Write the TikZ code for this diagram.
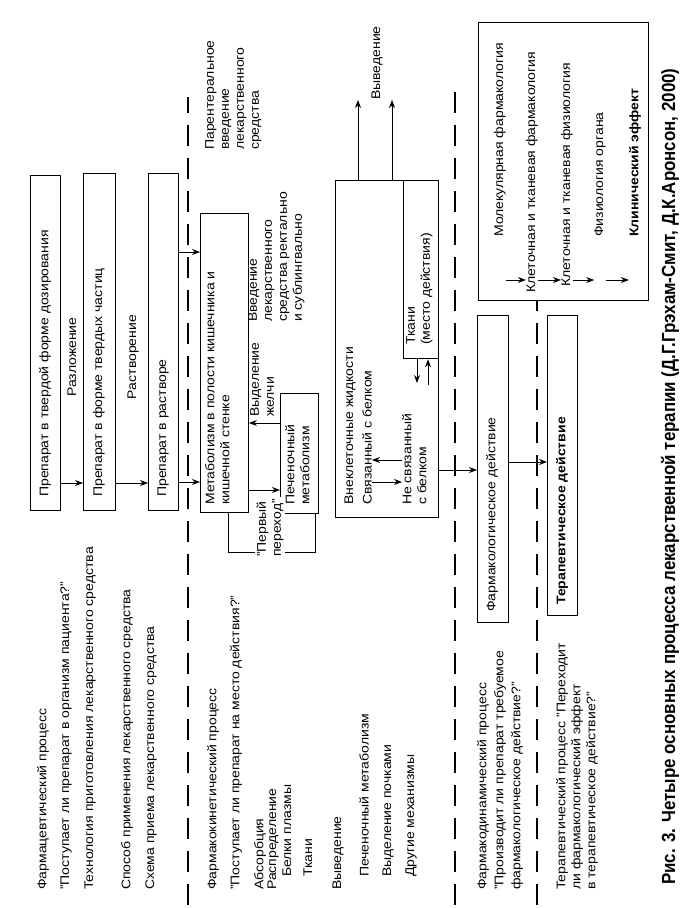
\documentclass[tikz,border=0pt]{standalone}
\usepackage{fontspec}
\setmainfont[FakeStretch=1.12]{Liberation Sans}
\newfontfamily\capfont[FakeStretch=0.89]{Liberation Sans}
\usetikzlibrary{arrows.meta}

\begin{document}
\begin{tikzpicture}[x=1pt, y=-1pt,
                every node/.style={font=\fontsize{12.5}{15}\selectfont},
                txt/.style={rotate=90, anchor=west, inner sep=0pt},
                par/.style={rotate=90, anchor=north west, inner sep=0pt, align=left},
                box/.style={draw, line width=0.9pt, anchor=north west, inner sep=0pt},
                sep/.style={line width=2.6pt, dash pattern=on 21pt off 12pt},
                arr/.style={line width=0.8pt, -{Stealth[length=8pt, width=6pt]}},
                link/.style={line width=0.8pt}
            ]
            \useasboundingbox (0,0) rectangle (696,908);
            % Separators
            \draw[sep] (188,905) -- (188,97);
            \draw[sep] (455,905) -- (455,85);
            \draw[sep] (537,905) -- (537,300);
            % Left column
            \node[txt] (pharmaceut) at (43,890) {Фармацевтический процесс};
            \node[txt] (q1) at (66,890) {"Поступает ли препарат в организм пациента?"};
            \node[txt] (tech) at (90,890) {Технология приготовления лекарственного средства};
            \node[txt] (route) at (127,890) {Способ применения лекарственного средства};
            \node[txt] (regimen) at (151,890) {Схема приема лекарственного средства};
            \node[txt] (kinetic) at (213,890) {Фармакокинетический процесс};
            \node[txt] (q2) at (236,890) {"Поступает ли препарат на место действия?"};
            \node[txt] (absorb) at (260,890) {Абсорбция};
            \node[txt] (distr) at (273,890) {Распределение};
            \node[txt] (plasma) at (287,877) {Белки плазмы};
            \node[txt] (tissue) at (308,877) {Ткани};
            \node[txt] (elim) at (338,890) {Выведение};
            \node[txt] (hepat) at (364,877) {Печеночный метаболизм};
            \node[txt] (renal) at (388,877) {Выделение почками};
            \node[txt] (other) at (411,877) {Другие механизмы};
            \node[par, font=\fontsize{12.5}{17}\selectfont] (dynamic) at (477,890) {Фармакодинамический процесс\\"Производит ли препарат требуемое\\фармакологическое действие?"};
            \node[par] (therap) at (556,890) {Терапевтический процесс "Переходит\\ли фармакологический эффект\\в терапевтическое действие?"};
            % Pharmaceutical boxes
            \node[box, minimum width=30pt, minimum height=335pt] (solid) at (30,175) {};
            \node[box, minimum width=32pt, minimum height=337pt] (particles) at (83,173) {};
            \node[box, minimum width=30pt, minimum height=337pt] (solution) at (148,173) {};
            \node[txt] (tsolid) at (45,497) {Препарат в твердой форме дозирования};
            \node[txt] (tparticles) at (99,497) {Препарат в форме твердых частиц};
            \node[txt] (tsolution) at (163,497) {Препарат в растворе};
            \node[rotate=90] (decay) at (72,357) {Разложение};
            \node[rotate=90] (dissol) at (133,357) {Растворение};
            \coordinate (ab) at (0,483);
            \draw[arr] (solid.east |- ab) -- (particles.west |- ab);
            \draw[arr] (particles.east |- ab) -- (solution.west |- ab);
            % Pharmacokinetic boxes
            \node[box, minimum width=48pt, minimum height=299pt] (gut) at (200,213) {};
            \node[par] (tgut) at (205,505) {Метаболизм в полости кишечника и\\кишечной стенке};
            \node[box, minimum width=38pt, minimum height=120pt] (liver) at (280,393) {};
            \node[par] (tliver) at (285,505) {Печеночный\\метаболизм};
            \coordinate (in1) at (0,252);
            \coordinate (in2) at (0,482);
            \draw[arr] (solution.east |- in1) -- (gut.west |- in1);
            \draw[arr] (solution.east |- in2) -- (gut.west |- in2);
            \coordinate (g2l) at (0,490);
            \coordinate (l2g) at (0,423);
            \draw[arr] (gut.east |- g2l) -- (liver.west |- g2l);
            \draw[arr] (liver.west |- l2g) -- (gut.east |- l2g);
            \node[par] (bile) at (250,417) {Выделение\\желчи};
            \node[par] (rectal) at (248,322) {Введение\\лекарственного\\средства ректально\\и сублингвально};
            \node[par] (parent) at (205,150) {Парентеральное\\введение\\лекарственного\\средства};
            \coordinate (fpa) at (228,552);
            \coordinate (fpb) at (315,552);
            \draw[link] (gut.south -| fpa) -- (fpa) -- (fpb) -- (liver.south -| fpb);
            \node[rotate=90, fill=white, inner sep=2pt, align=left] (first) at (270,528) {"Первый\\переход"};
            % Extracellular fluid
            \node[box, minimum width=103pt, minimum height=337pt] (ecf) at (335,180) {};
            \node[box, line width=1.3pt, minimum width=35pt, minimum height=178pt] (tis) at (403,180) {};
            \node[txt] (tecf) at (350,505) {Внеклеточные жидкости};
            \node[txt] (bound) at (367,505) {Связанный с белком};
            \node[par] (unbound) at (402,505) {Не связанный\\с белком};
            \node[par] (ttis) at (406,345) {Ткани\\(место действия)};
            \coordinate (eq1) at (0,460);
            \coordinate (eq2) at (0,482);
            \draw[arr] (unbound.north |- eq1) -- (bound.south |- eq1);
            \draw[arr] (bound.south |- eq2) -- (unbound.north |- eq2);
            \coordinate (t1) at (417,383);
            \coordinate (t2) at (428,385);
            \draw[arr] (tis.south -| t1) -- (t1);
            \draw[arr] (t2) -- (tis.south -| t2);
            \coordinate (out1) at (358,100);
            \coordinate (out2) at (392,100);
            \draw[arr] (ecf.north -| out1) -- (out1);
            \draw[arr] (ecf.north -| out2) -- (out2);
            \node[txt] (excr) at (377,100) {Выведение};
            % Pharmacodynamic and therapeutic boxes
            \node[box, minimum width=31pt, minimum height=307pt] (pharm) at (477,315) {};
            \node[txt] (tpharm) at (492,612) {Фармакологическое действие};
            \node[box, minimum width=30pt, minimum height=300pt] (ther) at (547,315) {};
            \node[txt, font=\bfseries\fontsize{12.5}{15}\selectfont] (tther) at (562,605) {Терапевтическое действие};
            \coordinate (pd) at (0,470);
            \coordinate (pt) at (0,462);
            \draw[arr] (ecf.east |- pd) -- (pharm.west |- pd);
            \draw[arr] (pharm.east |- pt) -- (ther.west |- pt);
            % Levels of action
            \node[box, minimum width=170pt, minimum height=278pt] (levels) at (478,22) {};
            \node[txt] (mol) at (500,237) {Молекулярная фармакология};
            \node[txt] (cellph) at (532,293) {Клеточная и тканевая фармакология};
            \node[txt] (cellphys) at (567,287) {Клеточная и тканевая физиология};
            \node[txt] (organ) at (600,237) {Физиология органа};
            \node[txt, font=\bfseries\fontsize{12.5}{15}\selectfont] (clin) at (635,237) {Клинический эффект};
            \coordinate (lv) at (0,280);
            \draw[arr] (mol.south |- lv) -- (cellph.north |- lv);
            \draw[arr] (cellph.south |- lv) -- (cellphys.north |- lv);
            \draw[arr] (cellphys.south |- lv) -- (organ.north |- lv);
            \draw[arr] (organ.south |- lv) -- (clin.north |- lv);
            % Caption
            \node[txt, font=\capfont\bfseries\fontsize{19}{22}\selectfont] (caption) at (670,885) {Рис. 3. Четыре основных процесса лекарственной терапии (Д.Г.Грэхам-Смит, Д.К.Аронсон, 2000)};
\end{tikzpicture}
\end{document}
